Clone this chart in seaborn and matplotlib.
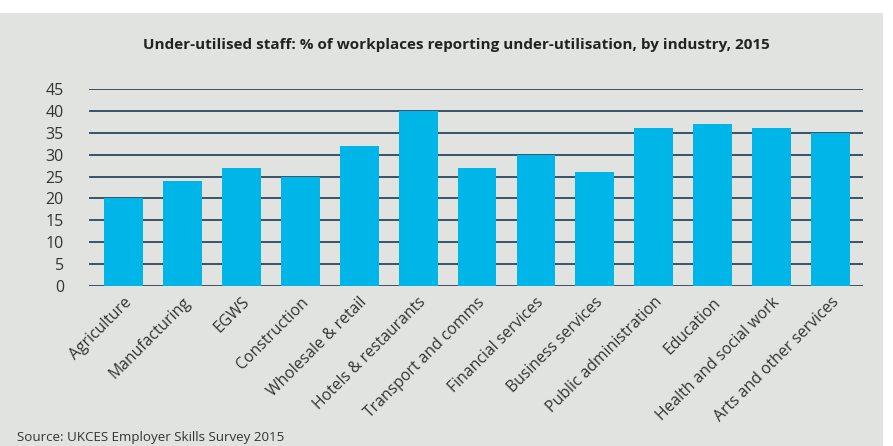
"""
Under-utilised staff by industry, UKCES Employer Skills Survey 2015.
"""

import pandas as pd
import matplotlib.pyplot as plt
import seaborn as sns
from matplotlib.patches import Rectangle

industries = [
    "Agriculture", "Manufacturing", "EGWS", "Construction",
    "Wholesale & retail", "Hotels & restaurants", "Transport and comms",
    "Financial services", "Business services", "Public administration",
    "Education", "Health and social work", "Arts and other services",
]
under_utilised = [20, 24, 27, 25, 32, 40, 27, 30, 26, 36, 37, 36, 35]
y_ticks = [0, 5, 10, 15, 20, 25, 30, 35, 40, 45]

BG = "#e1e3e1"
BAR = "#00b5e8"
GRID = "#1e3a4f"

sns.set_theme(style="white")
plt.rcParams["font.family"] = ["Open Sans", "DejaVu Sans"]

df = pd.DataFrame({"Industry": industries, "Percent": under_utilised})

fig = plt.figure(figsize=(8.93, 4.46), dpi=100)
fig.patch.set_facecolor("white")

# grey panel behind everything
fig.patches.append(
    Rectangle((0, 0), 883 / 893, (446 - 13) / 446,
              transform=fig.transFigure, facecolor=BG,
              edgecolor="none", zorder=-1)
)

ax = fig.add_axes([89 / 893, 1 - 286 / 446, (863 - 89) / 893, (286 - 89) / 446])
ax.set_facecolor(BG)
ax.patch.set_alpha(0)

sns.barplot(data=df, x="Industry", y="Percent", color=BAR,
            width=0.66, saturation=1, linewidth=0, ax=ax, zorder=3)

ax.set_ylim(0, 45)
ax.set_yticks(y_ticks)
ax.yaxis.grid(True, color=GRID, linewidth=1.2, zorder=0)
ax.set_axisbelow(True)
for side in ["top", "right", "left", "bottom"]:
    ax.spines[side].set_visible(False)
ax.set_xlim(-0.585, len(industries) - 0.45)

ax.set_xlabel("")
ax.set_ylabel("")
ax.tick_params(axis="y", length=0, pad=18, labelsize=11.5, labelcolor="#333333")
ax.tick_params(axis="x", length=0, pad=6, labelsize=11.3, labelcolor="#333333")
ax.set_xticks(range(len(industries)))
ax.set_xticklabels(industries, rotation=45, ha="right", rotation_mode="anchor")

fig.text(456 / 893, 1 - 45 / 446,
         "Under-utilised staff: % of workplaces reporting under-utilisation, by industry, 2015",
         ha="center", va="center", fontsize=11, fontweight="bold", color="#222222")

fig.text(17 / 893, 1 - 437 / 446, "Source: UKCES Employer Skills Survey 2015",
         ha="left", va="center", fontsize=9.6, color="#333333")

fig.savefig("out.png", dpi=100, facecolor=fig.get_facecolor())
plt.close(fig)
